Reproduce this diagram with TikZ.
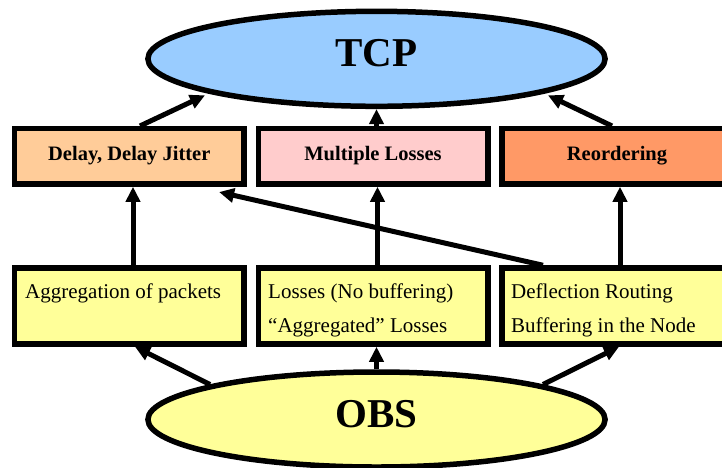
\documentclass[tikz,border=0pt]{standalone}
\usepackage{fontspec}
\setmainfont{Liberation Serif}
\usetikzlibrary{arrows.meta,calc,shapes.geometric}
\definecolor{tcpblue}{HTML}{99CCFF}
\definecolor{delayor}{HTML}{FFCC99}
\definecolor{losspink}{HTML}{FFCCCC}
\definecolor{reordor}{HTML}{FF9966}
\definecolor{obsyellow}{HTML}{FFFF99}
\begin{document}
\begin{tikzpicture}[x=1pt,y=-1pt,
  bbox/.style={draw=black,line width=5.5pt,rectangle,minimum width=229.5pt,inner sep=0pt},
  toprow/.style={bbox,minimum height=55.3pt},
  botrow/.style={bbox,fill=obsyellow,minimum height=76pt},
  oval/.style={draw=black,line width=5.5pt,ellipse,inner sep=0pt,minimum width=457.2pt,minimum height=95pt},
  arr/.style={line width=5pt,-{Triangle[length=15pt,width=14pt]}},
  boxlabel/.style={font=\fontsize{20.5}{24}\selectfont\bfseries,anchor=base,inner sep=0pt},
  linelabel/.style={font=\fontsize{21}{25}\selectfont,anchor=base west,inner sep=0pt},
  biglabel/.style={font=\fontsize{41}{48}\selectfont\bfseries,anchor=base,inner sep=0pt}]
\clip (0,0) rectangle (722,467);
\fill[white] (0,0) rectangle (722,467);
% ellipses
\node[oval,fill=tcpblue] (tcp) at (376.5,58.8) {};
\node[oval,fill=obsyellow] (obs) at (376.5,419.5) {};
\node[biglabel] (tcpl) at (376.5,66) {TCP};
\node[biglabel] (obsl) at (376.5,427) {OBS};
% top row
\node[toprow,fill=delayor] (d1) at (129.3,156.35) {};
\node[toprow,fill=losspink] (d2) at (373,156.35) {};
\node[toprow,fill=reordor] (d3) at (616.6,156.35) {};
\node[boxlabel] (d1l) at (129.3,160) {Delay, Delay Jitter};
\node[boxlabel] (d2l) at (373,160) {Multiple Losses};
\node[boxlabel] (d3l) at (617,160) {Reordering};
% bottom row
\node[botrow] (a1) at (129.3,306) {};
\node[botrow] (a2) at (373,306) {};
\node[botrow] (a3) at (616.6,306) {};
\node[linelabel] (a1l) at (25,298) {Aggregation of packets};
\node[linelabel] (a2l) at (268,298) {Losses (No buffering)};
\node[linelabel] (a2m) at (268,332) {“Aggregated” Losses};
\node[linelabel] (a3l) at (511,298) {Deflection Routing};
\node[linelabel] (a3m) at (511,332) {Buffering in the Node};
% connectors
\coordinate (x1) at (133,0);
\coordinate (x2) at (377.5,0);
\coordinate (x3) at (620,0);
\coordinate (xd) at (543,0);
\draw[arr] ($(d1.north)+(10.7,0)$) -- ($(tcp.center)+(-171.5,36.5)$);
\draw[arr] (d2.north -| tcp.south) -- (tcp.south);
\draw[arr] ($(d3.north)+(-4.6,0)$) -- ($(tcp.center)+(171.5,36.5)$);
\draw[arr] (a1.north -| x1) -- (d1.south -| x1);
\draw[arr] (a2.north -| x2) -- (d2.south -| x2);
\draw[arr] (a3.north -| x3) -- (d3.south -| x3);
\draw[arr] (a3.north -| xd) -- ($(d1.south east)+(-27.7,5.3)$);
\draw[arr] ($(obs.center)+(-166.5,-35)$) -- ($(a1.south)+(5.7,0)$);
\draw[arr] (obs.north) -- (a2.south -| obs.north);
\draw[arr] ($(obs.center)+(166.5,-35)$) -- ($(a3.south)+(2.4,0)$);
\end{tikzpicture}
\end{document}
